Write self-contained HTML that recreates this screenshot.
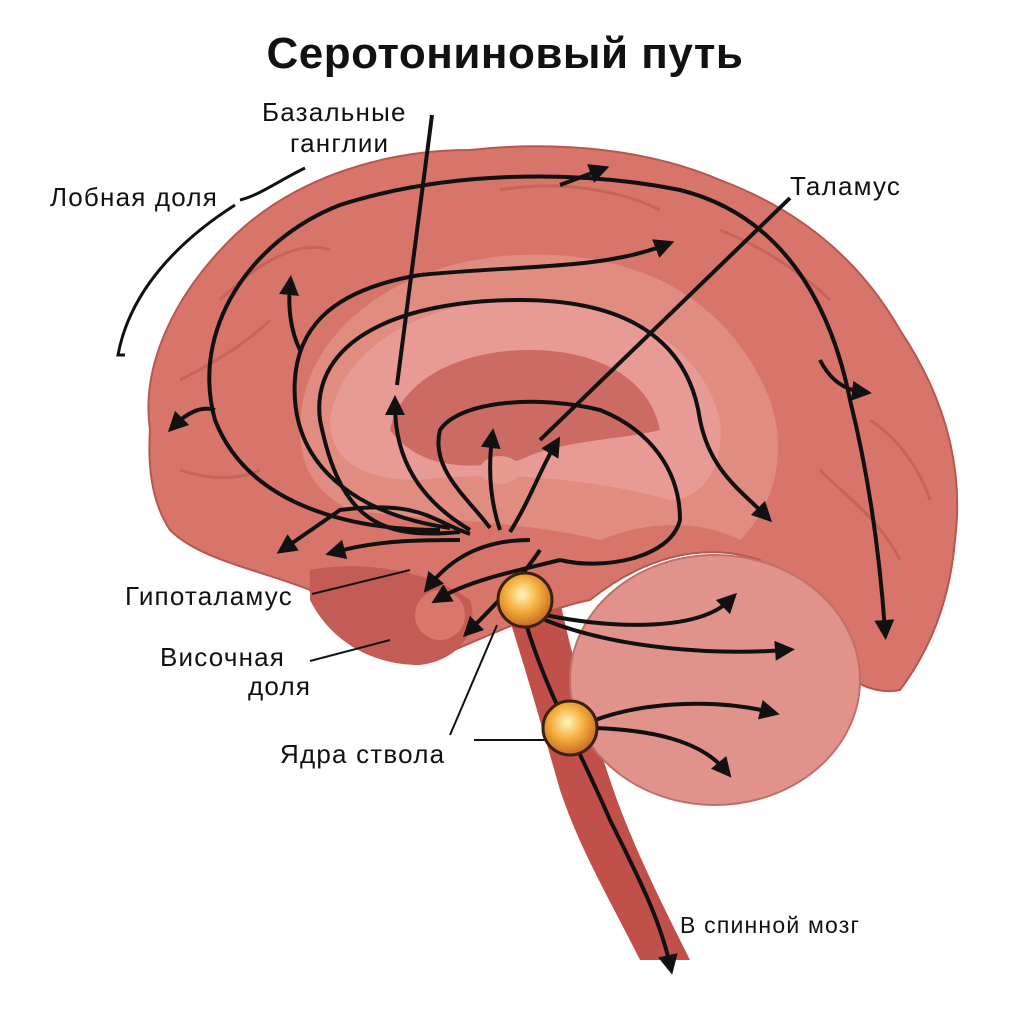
<!DOCTYPE html>
<html><head><meta charset="utf-8"><style>
html,body{margin:0;padding:0;background:#fff;}
svg{display:block;font-family:"Liberation Sans",sans-serif;}
</style></head><body>
<svg width="1024" height="1024" viewBox="0 0 1024 1024" xmlns="http://www.w3.org/2000/svg">
<defs>
<marker id="a" viewBox="0 0 10 10" refX="5" refY="5" markerWidth="5" markerHeight="5" orient="auto-start-reverse"><path d="M0,0 L10,5 L0,10 z" fill="#111"/></marker>
<radialGradient id="n" cx="45%" cy="40%" r="60%"><stop offset="0" stop-color="#fff6c0"/><stop offset="0.5" stop-color="#f5b040"/><stop offset="1" stop-color="#c86a20"/></radialGradient>
</defs>
<rect width="1024" height="1024" fill="#fff"/>
<text x="505" y="68" font-size="44" font-weight="bold" text-anchor="middle" fill="#111" letter-spacing="0.5">Серотониновый путь</text>
<path d="M500,590 C520,650 540,720 560,790 C580,850 610,900 640,960 L690,960 C660,900 630,840 610,780 C590,720 570,650 560,600 Z" fill="#c2504a"/>
<path d="M150,430 C140,360 180,290 230,240 C290,180 380,150 470,150 C560,140 650,150 720,180 C800,210 860,260 900,330 C940,390 965,460 955,540 C950,600 930,650 900,690 C850,700 800,640 760,560 C700,540 640,560 590,600 C540,610 480,640 430,660 C380,660 330,630 310,590 C260,570 200,560 170,530 C150,500 148,460 150,430 Z" fill="#d8756a" stroke="#b8574e" stroke-width="2"/>
<g fill="none" stroke="#bf5d54" stroke-width="3" opacity="0.7">
<path d="M220,300 C260,260 300,240 330,250"/><path d="M180,380 C220,360 250,340 270,320"/>
<path d="M500,190 C560,180 620,190 660,210"/><path d="M720,230 C770,250 810,280 830,300"/>
<path d="M870,420 C900,440 920,470 930,500"/><path d="M180,470 C210,480 240,480 260,470"/>
<path d="M820,470 C850,500 880,520 900,560"/>
</g>
<path d="M300,430 C300,330 400,260 520,255 C640,250 730,300 770,400 C790,460 770,510 740,540 C700,520 650,520 600,540 C520,520 420,520 350,510 C310,490 300,460 300,430 Z" fill="#e18c80"/>
<path d="M330,420 C340,350 420,300 520,300 C620,300 700,340 720,420 C725,470 700,500 670,500 C600,480 500,470 420,480 C360,480 330,460 330,420 Z" fill="#e89a94"/>
<path d="M390,430 C400,380 460,350 530,350 C600,350 650,380 660,430 C620,440 560,440 520,460 C470,470 420,470 390,430 Z" fill="#cc6a64"/>
<ellipse cx="500" cy="470" rx="20" ry="14" fill="#e79a90"/>
<path d="M310,570 C360,560 430,570 470,600 C480,630 460,660 420,665 C370,665 330,640 310,600 Z" fill="#c25c54"/>
<ellipse cx="440" cy="615" rx="25" ry="25" fill="#d9776c"/>
<ellipse cx="715" cy="680" rx="145" ry="125" fill="#e0928b" stroke="#c0706a" stroke-width="2"/>
<g fill="none" stroke="#111" stroke-width="4">
<path d="M440,530 C360,530 250,510 215,420 C190,330 250,240 340,205 C450,170 580,170 680,190 C780,215 830,300 850,400 C870,480 880,560 885,630" marker-end="url(#a)"/>
<path d="M560,185 L600,170" marker-end="url(#a)"/>
<path d="M820,360 C830,380 845,390 862,392" marker-end="url(#a)"/>
<path d="M215,410 C200,405 185,415 175,425" marker-end="url(#a)"/>
<path d="M450,528 C360,515 300,470 295,400 C290,330 330,290 420,275 C520,265 600,270 665,245" marker-end="url(#a)"/>
<path d="M300,350 C290,330 288,305 290,285" marker-end="url(#a)"/>
<path d="M460,532 C380,540 340,520 320,420 C310,340 400,300 520,300 C640,300 690,350 700,420 C710,470 740,490 765,515" marker-end="url(#a)"/>
<path d="M470,534 C430,520 420,500 340,510 L285,548" marker-end="url(#a)"/>
<path d="M460,540 C420,540 380,540 335,552" marker-end="url(#a)"/>
<path d="M470,530 C420,500 395,460 395,405" marker-end="url(#a)"/>
<path d="M490,528 C470,500 430,470 440,430 C460,400 540,395 600,410 C650,430 680,470 680,520 C670,560 600,570 560,560" />
<path d="M500,530 C490,500 488,470 492,438" marker-end="url(#a)"/>
<path d="M510,532 C530,500 540,470 555,445" marker-end="url(#a)"/>
<path d="M530,540 C480,540 450,560 430,585" marker-end="url(#a)"/>
<path d="M560,560 C520,570 470,580 440,598" marker-end="url(#a)"/>
<path d="M540,550 C520,580 490,610 470,630" marker-end="url(#a)"/>
<path d="M545,615 C620,630 700,630 730,600" marker-end="url(#a)"/>
<path d="M545,620 C620,650 720,655 785,650" marker-end="url(#a)"/>
<path d="M595,720 C650,700 720,700 770,712" marker-end="url(#a)"/>
<path d="M595,728 C650,730 700,740 725,770" marker-end="url(#a)"/>
<path d="M525,620 C545,690 580,750 610,820 C640,880 660,920 670,965" marker-end="url(#a)"/>
<path d="M432,115 L397,385"/>
<path d="M790,198 L540,440"/>
<path d="M312,594 L410,570" stroke-width="2"/>
<path d="M310,661 L390,640" stroke-width="2"/>
<path d="M450,735 L497,625" stroke-width="2"/>
<path d="M474,740 L545,740" stroke-width="2"/>
<path d="M240,200 C260,195 280,180 305,168" stroke-width="3"/>
<path d="M235,205 C180,240 130,290 118,355 L125,355" stroke-width="3"/>
</g>
<circle cx="525" cy="600" r="27" fill="url(#n)" stroke="#3a2010" stroke-width="3"/>
<circle cx="570" cy="728" r="27" fill="url(#n)" stroke="#3a2010" stroke-width="3"/>
<g font-size="26" fill="#111" letter-spacing="1.2">
<text x="262" y="121">Базальные</text>
<text x="290" y="152">ганглии</text>
<text x="50" y="206">Лобная доля</text>
<text x="790" y="195">Таламус</text>
<text x="125" y="605">Гипоталамус</text>
<text x="160" y="666">Височная</text>
<text x="248" y="695">доля</text>
<text x="280" y="763">Ядра ствола</text>
<text x="680" y="933" font-size="23">В спинной мозг</text>
</g>
</svg>
</body></html>
